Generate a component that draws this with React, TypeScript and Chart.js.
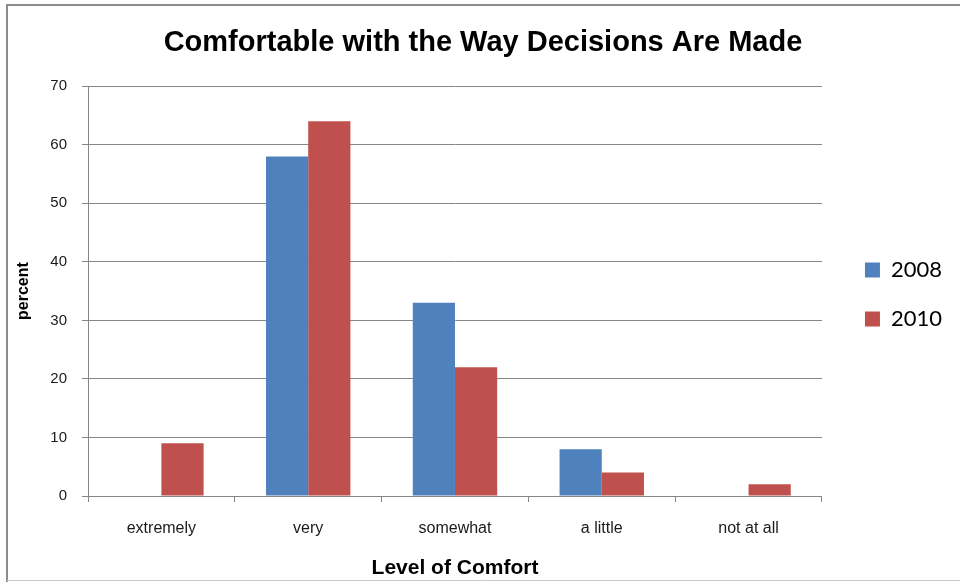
import React, { useEffect, useRef } from "react";
import { Chart, registerables } from "chart.js";

Chart.register(...registerables);

const chartTitle = "Comfortable with the Way Decisions Are Made";
const xAxisTitle = "Level of Comfort";
const yAxisTitle = "percent";
const categories = ["extremely", "very", "somewhat", "a little", "not at all"];
const seriesNames = ["2008", "2010"];
const values2008 = [0, 58, 33, 8, 0];
const values2010 = [9, 64, 22, 4, 2];
const yMin = 0;
const yMax = 70;
const yStep = 10;

const W = 960;
const H = 582;
const GRID = "#868686";
const FONT = "'Liberation Sans', Arial, sans-serif";

const framePlugin = {
  id: "frame",
  beforeDraw(chart: any) {
    const ctx = chart.ctx;
    ctx.save();
    ctx.fillStyle = "#ffffff";
    ctx.fillRect(0, 0, chart.width, chart.height);
    ctx.restore();
  },
  afterDraw(chart: any) {
    const ctx = chart.ctx;
    ctx.save();
    ctx.strokeStyle = "#8c8c8c";
    ctx.lineWidth = 2;
    ctx.beginPath();
    ctx.moveTo(6, 5);
    ctx.lineTo(chart.width, 5);
    ctx.moveTo(7, 5);
    ctx.lineTo(7, chart.height);
    ctx.stroke();
    ctx.strokeStyle = "#c8c8c8";
    ctx.lineWidth = 1;
    ctx.beginPath();
    ctx.moveTo(7, 580.5);
    ctx.lineTo(chart.width, 580.5);
    ctx.stroke();
    ctx.restore();
  },
};

export default function App() {
  const ref = useRef<HTMLCanvasElement | null>(null);

  useEffect(() => {
    if (!ref.current) return;
    const chart = new Chart(ref.current, {
      type: "bar",
      data: {
        labels: categories,
        datasets: [
          {
            label: seriesNames[0],
            data: values2008,
            backgroundColor: "#4F81BD",
            borderWidth: 0,
            categoryPercentage: 0.575,
            barPercentage: 1,
          },
          {
            label: seriesNames[1],
            data: values2010,
            backgroundColor: "#C0504D",
            borderWidth: 0,
            categoryPercentage: 0.575,
            barPercentage: 1,
          },
        ],
      },
      options: {
        responsive: false,
        animation: false,
        devicePixelRatio: 1,
        layout: { padding: { left: 14, right: 8, top: 0, bottom: 0 } },
        plugins: {
          tooltip: { enabled: false },
          title: {
            display: true,
            text: chartTitle,
            color: "#000000",
            font: { family: FONT, size: 29, weight: "bold", lineHeight: 1.2 },
            padding: { top: 26, bottom: 25.4 },
          },
          legend: {
            display: true,
            position: "right",
            title: {
              display: true,
              text: " ",
              font: { size: 1, lineHeight: 1 },
              padding: { top: 3, bottom: 3 },
            },
            labels: {
              boxWidth: 15,
              boxHeight: 15,
              padding: 27,
              color: "#000000",
              font: { family: "Lato, 'Open Sans', sans-serif", size: 22 },
            },
          },
        },
        scales: {
          x: {
            grid: {
              display: true,
              drawOnChartArea: false,
              drawTicks: true,
              tickLength: 6,
              color: GRID,
            },
            border: { display: true, color: GRID },
            ticks: {
              color: "#1a1a1a",
              font: { family: FONT, size: 16 },
              padding: 17,
              maxRotation: 0,
            },
            title: {
              display: true,
              text: xAxisTitle,
              color: "#000000",
              font: { family: FONT, size: 21, weight: "bold", lineHeight: 1.2 },
              padding: { top: 0, bottom: 1 },
            },
            afterFit: (s: any) => {
              s.height = 86;
            },
          },
          y: {
            min: yMin,
            max: yMax,
            ticks: {
              stepSize: yStep,
              color: "#1a1a1a",
              font: { family: FONT, size: 15 },
              padding: 15,
            },
            grid: { color: GRID, tickLength: 6, drawTicks: true },
            border: { display: true, color: GRID },
            title: {
              display: true,
              text: yAxisTitle,
              color: "#000000",
              font: { family: FONT, size: 16, weight: "bold", lineHeight: 1 },
              padding: { top: 2, bottom: 0 },
            },
            afterFit: (s: any) => {
              s.width = 74;
            },
          },
          spacer: {
            type: "linear",
            position: "right",
            display: true,
            grid: { display: false, drawTicks: false },
            border: { display: false },
            ticks: { display: false },
            afterFit: (s: any) => {
              s.width = 16;
            },
          },
        },
      } as any,
      plugins: [framePlugin],
    });
    return () => chart.destroy();
  }, []);

  return (
    <div
      style={{
        position: "absolute",
        left: 0,
        top: 0,
        width: W,
        height: H,
        background: "#ffffff",
      }}
    >
      <canvas ref={ref} width={W} height={H} style={{ width: W, height: H, display: "block" }} />
    </div>
  );
}
